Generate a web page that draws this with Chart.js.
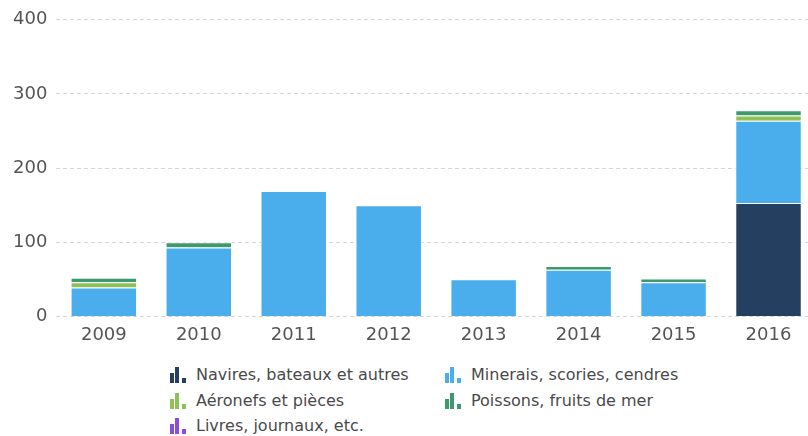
<!DOCTYPE html>
<html>
<head>
<meta charset="utf-8">
<script src="https://cdn.jsdelivr.net/npm/chart.js@4"></script>
<style>
  body { margin: 0; width: 808px; height: 436px; overflow: hidden; background: #fff; font-family: "DejaVu Sans", sans-serif; }
  #wrap { position: absolute; left: 0; top: 0; width: 816px; height: 354px; }
  #legend { position: absolute; left: 170px; top: 365px; width: 560px; }
  .item { position: absolute; display: flex; align-items: center; font-size: 16px; color: #4a4a4a; white-space: nowrap; }
  .ico { position: relative; width: 16px; height: 17px; margin-right: 10px; }
  .ico span { position: absolute; bottom: 0; width: 4px; }
</style>
</head>
<body>
<div id="wrap"><canvas id="chart"></canvas></div>
<div id="legend"></div>
<script>
const years = ['2009', '2010', '2011', '2012', '2013', '2014', '2015', '2016'];
const seriesNames = ['Navires, bateaux et autres', 'Minerais, scories, cendres', 'Aéronefs et pièces', 'Poissons, fruits de mer', 'Livres, journaux, etc.'];
const navires = [0, 0, 0, 0, 0, 0, 0, 153];
const minerais = [39, 93, 169, 150, 50, 63, 46, 111];
const aeronefs = [7, 0, 0, 0, 0, 0, 0, 7];
const poissons = [6, 7, 0, 0, 0, 5, 5, 7];
const livres = [0, 0, 0, 0, 0, 0, 0, 0];
const yTicks = [0, 100, 200, 300, 400];
const colors = ['#243f5f', '#4aaeec', '#8fc157', '#3e9a6e', '#8a4be0'];

const values = [navires, minerais, aeronefs, poissons, livres];
const datasets = seriesNames.map(function (name, i) {
    return {
        label: name,
        data: values[i],
        backgroundColor: colors[i],
        borderColor: 'rgba(255,255,255,0.8)',
        borderWidth: 1,
        barPercentage: 0.7,
        categoryPercentage: 1
    };
});

new Chart(document.getElementById('chart'), {
    type: 'bar',
    data: { labels: years, datasets: datasets },
    options: {
        responsive: true,
        maintainAspectRatio: false,
        animation: false,
        layout: { padding: { left: 4, top: 10, right: 0, bottom: 0 } },
        plugins: { legend: { display: false }, tooltip: { enabled: false } },
        scales: {
            x: {
                stacked: true,
                grid: { display: false, drawTicks: false },
                border: { display: false },
                ticks: { color: '#555', font: { family: 'DejaVu Sans', size: 18 }, padding: 8 }
            },
            y: {
                stacked: true,
                min: yTicks[0],
                max: yTicks[yTicks.length - 1],
                afterBuildTicks: function (axis) { axis.ticks = yTicks.map(function (v) { return { value: v }; }); },
                grid: { color: '#d6d6d6', drawTicks: false, lineWidth: 1 },
                border: { display: false, dash: [4, 3] },
                ticks: { color: '#555', font: { family: 'DejaVu Sans', size: 18 }, padding: 9 }
            }
        }
    }
});

// legend in two columns, like the reference
const legend = document.getElementById('legend');
const iconBars = [[0, 10], [5, 16], [12, 5]];
seriesNames.forEach(function (name, i) {
    const item = document.createElement('div');
    item.className = 'item';
    item.style.left = (i % 2 === 0 ? 0 : 275) + 'px';
    item.style.top = (Math.floor(i / 2) * 25.5) + 'px';
    const ico = document.createElement('div');
    ico.className = 'ico';
    iconBars.forEach(function (b) {
        const s = document.createElement('span');
        s.style.left = b[0] + 'px';
        s.style.height = b[1] + 'px';
        s.style.background = colors[i];
        ico.appendChild(s);
    });
    item.appendChild(ico);
    const t = document.createElement('span');
    t.textContent = name;
    item.appendChild(t);
    legend.appendChild(item);
});
</script>
</body>
</html>
